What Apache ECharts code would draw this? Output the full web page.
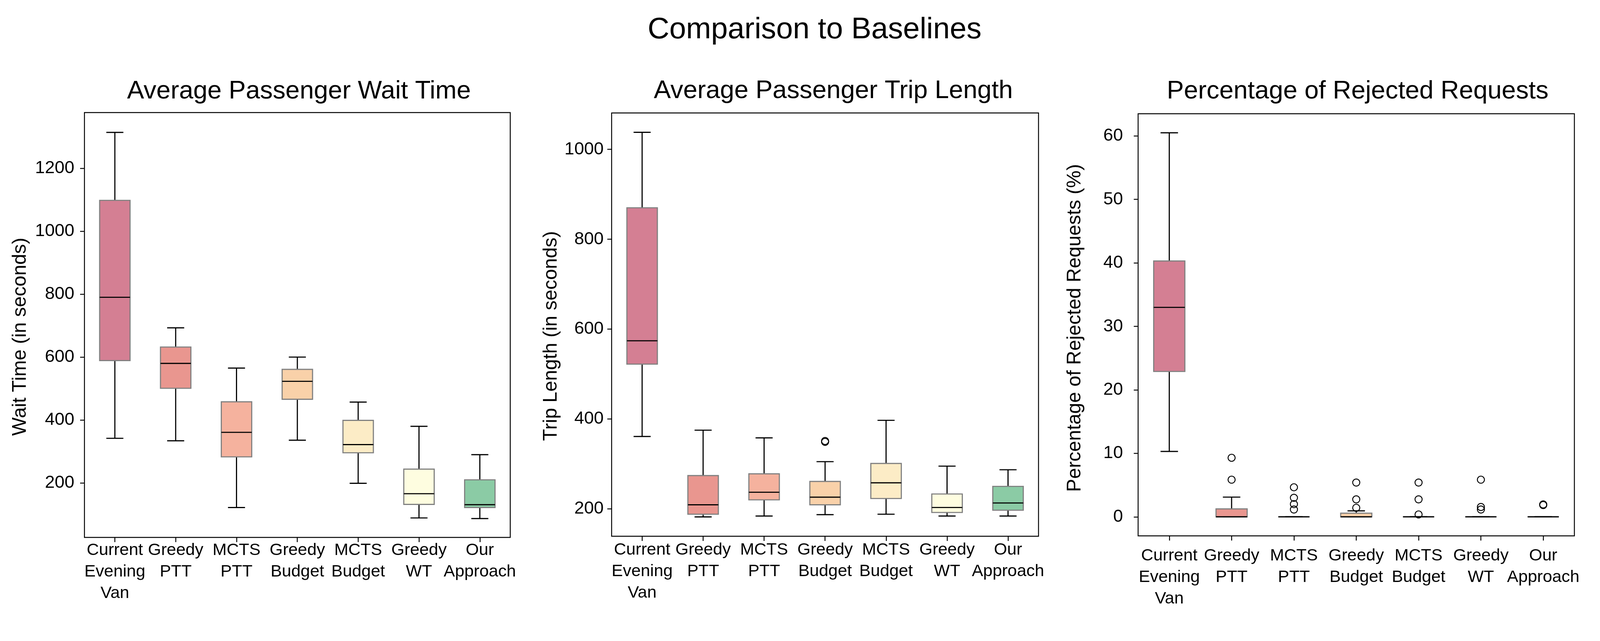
<!DOCTYPE html>
<html>
<head>
<meta charset="utf-8">
<script src="https://cdn.jsdelivr.net/npm/echarts@6/dist/echarts.min.js"></script>
<style>
html,body{margin:0;padding:0;background:#ffffff;overflow:hidden;}
#chart{position:absolute;left:0;top:0;}
</style>
</head>
<body>
<div id="chart"></div>
<script>
// ---------- data ----------
const categories = ['Current\nEvening\nVan', 'Greedy\nPTT', 'MCTS\nPTT', 'Greedy\nBudget', 'MCTS\nBudget', 'Greedy\nWT', 'Our\nApproach'];
const boxColors = ['#d47f93', '#e9968f', '#f5b29e', '#f9d1a9', '#fcecc6', '#fefde0', '#8bcba5'];

// each row: [lower whisker, Q1, median, Q3, upper whisker]
const waitTime = [
  [342, 589, 790, 1098, 1314],
  [334, 501, 580, 632, 693],
  [122, 283, 361, 458, 565],
  [336, 466, 523, 561, 600],
  [199, 296, 322, 399, 457],
  [89, 132, 166, 244, 380],
  [87, 122, 131, 210, 290]
];
const waitOutliers = [[], [], [], [], [], [], []];

const tripLength = [
  [361, 522, 574, 870, 1038],
  [182, 188, 209, 274, 375],
  [184, 220, 237, 278, 358],
  [187, 209, 226, 261, 305],
  [188, 223, 258, 301, 397],
  [184, 192, 203, 233, 295],
  [184, 197, 213, 250, 287]
];
const tripOutliers = [[], [], [], [349, 351], [], [], []];

const rejected = [
  [10.3, 22.9, 33.0, 40.3, 60.5],
  [0, 0, 0, 1.25, 3.1],
  [0, 0, 0, 0, 0],
  [0, 0, 0, 0.57, 0.94],
  [0, 0, 0, 0, 0],
  [0, 0, 0, 0, 0],
  [0, 0, 0, 0, 0]
];
const rejectedOutliers = [[], [5.85, 9.3], [1.15, 2.0, 3.0, 4.65], [1.42, 2.75, 5.4], [0.37, 2.75, 5.4], [1.15, 1.55, 5.85], [1.85, 1.95]];

const waitTicks = [200, 400, 600, 800, 1000, 1200];
const tripTicks = [200, 400, 600, 800, 1000];
const rejectedTicks = [0, 10, 20, 30, 40, 50, 60];

const suptitle = 'Comparison to Baselines';
const panelTitles = ['Average Passenger Wait Time', 'Average Passenger Trip Length', 'Percentage of Rejected Requests'];
const yNames = ['Wait Time (in seconds)', 'Trip Length (in seconds)', 'Percentage of Rejected Requests (%)'];

// ---------- chart ----------
const FONT = 'Liberation Sans';
const W0 = 4434, H0 = 1640;
const vw = window.innerWidth || document.documentElement.clientWidth || W0;
const vh = window.innerHeight || document.documentElement.clientHeight || H0;
const SX = vw / W0, SY = vh / H0;
const SF = Math.sqrt(SX * SY);
const X = v => v * SX;
const Y = v => v * SY;
const F = v => v * SF;

const el = document.getElementById('chart');
el.style.width = vw + 'px';
el.style.height = vh + 'px';
const chart = echarts.init(el, null, {renderer: 'canvas'});

function renderBox(params, api) {
  const i = api.value(0);
  const low = api.coord([i, api.value(1)]);
  const q1 = api.coord([i, api.value(2)]);
  const med = api.coord([i, api.value(3)]);
  const q3 = api.coord([i, api.value(4)]);
  const high = api.coord([i, api.value(5)]);
  const band = api.size([1, 0])[0];
  const bw = band * 0.5;
  const cw = band * 0.28;
  const x = low[0];
  const lineStyle = {stroke: '#000', lineWidth: F(3)};
  return {
    type: 'group',
    children: [
      {type: 'line', shape: {x1: x, y1: q3[1], x2: x, y2: high[1]}, style: lineStyle},
      {type: 'line', shape: {x1: x, y1: q1[1], x2: x, y2: low[1]}, style: lineStyle},
      {type: 'line', shape: {x1: x - cw / 2, y1: high[1], x2: x + cw / 2, y2: high[1]}, style: lineStyle},
      {type: 'line', shape: {x1: x - cw / 2, y1: low[1], x2: x + cw / 2, y2: low[1]}, style: lineStyle},
      {type: 'rect', shape: {x: x - bw / 2, y: q3[1], width: bw, height: q1[1] - q3[1]},
        style: {fill: boxColors[i], stroke: '#808080', lineWidth: F(3)}},
      {type: 'line', shape: {x1: x - bw / 2, y1: med[1], x2: x + bw / 2, y2: med[1]}, style: lineStyle}
    ]
  };
}

function boxData(rows) {
  return rows.map((r, i) => [i].concat(r));
}
function outlierData(lists) {
  const out = [];
  lists.forEach((vals, i) => vals.forEach(v => out.push([i, v])));
  return out;
}

const grids = [
  {left: 234, top: 288, width: 1180, height: 1087},
  {left: 1695, top: 289, width: 1183, height: 1083},
  {left: 3154, top: 291, width: 1209, height: 1080}
];
const yRanges = [[27, 1377], [139, 1081], [-3.0, 63.5]];
const yTicks = [waitTicks, tripTicks, rejectedTicks];
const yLabelMargins = [28, 22, 42];
const yNameGaps = [150, 140, 148];
const yNameShift = [30, 29, 8];
const xLabelMargins = [6, 8, 24];
const boxSets = [waitTime, tripLength, rejected];
const outlierSets = [waitOutliers, tripOutliers, rejectedOutliers];

const titleCenters = [[823, 196], [2304, 195], [3757, 196]];

const option = {
  animation: false,
  backgroundColor: '#ffffff',
  title: [
    {text: suptitle, left: X(2252), top: Y(33), textAlign: 'center',
      textStyle: {fontFamily: FONT, fontSize: F(80), fontWeight: 'normal', color: '#000'}}
  ].concat(panelTitles.map((t, k) => ({
    text: t, left: X(titleCenters[k][0]), top: Y(titleCenters[k][1]), textAlign: 'center',
    textStyle: {fontFamily: FONT, fontSize: F(68), fontWeight: 'normal', color: '#000'}
  }))),
  grid: grids.map(g => ({
    show: true, borderColor: '#000', borderWidth: F(2.5), backgroundColor: 'transparent',
    left: X(g.left), top: Y(g.top), width: X(g.width), height: Y(g.height)
  })),
  xAxis: grids.map((g, k) => ({
    type: 'category', gridIndex: k, data: categories, boundaryGap: true,
    axisLine: {show: false, onZero: false},
    axisTick: {show: true, alignWithLabel: true, length: Y(12), lineStyle: {color: '#000', width: F(2.5)}},
    axisLabel: {fontFamily: FONT, fontSize: F(45), color: '#000', lineHeight: Y(55), margin: Y(xLabelMargins[k]), interval: 0, align: 'center'},
    splitLine: {show: false}
  })),
  yAxis: grids.map((g, k) => ({
    type: 'value', gridIndex: k, min: yRanges[k][0], max: yRanges[k][1],
    name: yNames[k], nameLocation: 'middle', nameGap: X(yNameGaps[k]),
    nameTextStyle: {fontFamily: FONT, fontSize: F(52), color: '#000', padding: [0, Y(2 * yNameShift[k]), 0, 0]},
    axisLine: {show: false, onZero: false},
    axisTick: {show: true, length: X(12), customValues: yTicks[k], lineStyle: {color: '#000', width: F(2.5)}},
    axisLabel: {fontFamily: FONT, fontSize: F(47), color: '#000', margin: X(yLabelMargins[k]),
      customValues: yTicks[k], formatter: v => String(v)},
    splitLine: {show: false}
  })),
  series: []
};

boxSets.forEach((rows, k) => {
  option.series.push({
    type: 'custom', xAxisIndex: k, yAxisIndex: k,
    renderItem: renderBox,
    encode: {x: 0, y: [1, 2, 3, 4, 5]},
    data: boxData(rows), z: 2
  });
  const od = outlierData(outlierSets[k]);
  if (od.length) {
    option.series.push({
      type: 'scatter', xAxisIndex: k, yAxisIndex: k,
      symbol: 'circle', symbolSize: F(19),
      itemStyle: {color: 'rgba(0,0,0,0)', borderColor: '#000', borderWidth: F(2.5), opacity: 1},
      data: od, z: 3
    });
  }
});

chart.setOption(option);
</script>
</body>
</html>
